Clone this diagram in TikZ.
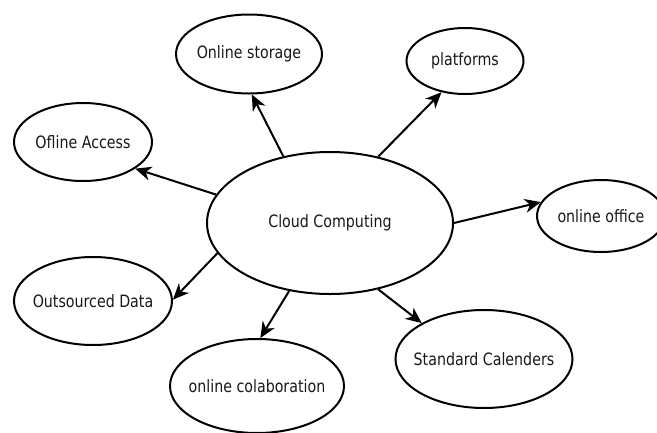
\documentclass[tikz,border=0pt]{standalone}
\usepackage{fontspec}
\newfontfamily\lblfont[FakeStretch=0.93]{DejaVu Sans Condensed}
\usetikzlibrary{shapes.geometric,arrows.meta}
% zero-width label so the ellipse keeps its given size
\newcommand\bubbletext[1]{\makebox[0pt]{#1}}
\tikzset{
  bubble/.style={ellipse, draw=black, line width=2pt, inner sep=0pt,
    font=\lblfont\fontsize{17}{20}\selectfont, text=black!90},
  link/.style={line width=2pt, draw=black,
    -{Stealth[length=16pt,width=14pt,inset=5pt]}}
}
\begin{document}
\begin{tikzpicture}[x=1pt,y=-1pt]
  \useasboundingbox (0,0) rectangle (657,432);
  \fill[white] (0,0) rectangle (657,432);
  \clip (0,0) rectangle (657,432);

  % hub
  \node[bubble, minimum width=246pt, minimum height=142pt] (cloud) at (330,223) {\bubbletext{Cloud Computing}};

  % satellites
  \node[bubble, minimum width=146pt, minimum height=79pt]  (storage)  at (249,54)  {\bubbletext{Online storage}};
  \node[bubble, minimum width=117pt, minimum height=66pt]  (plat)     at (465,61)  {\bubbletext{platforms}};
  \node[bubble, minimum width=138pt, minimum height=78pt]  (offline)  at (83,142)  {\bubbletext{Ofline Access}};
  \node[bubble, minimum width=128pt, minimum height=72pt]  (office)   at (601,216) {\bubbletext{online office}};
  \node[bubble, minimum width=158pt, minimum height=88pt]  (outsrc)   at (93,301)  {\bubbletext{Outsourced Data}};
  \node[bubble, minimum width=174pt, minimum height=94pt]  (collab)   at (257,386) {\bubbletext{online colaboration}};
  \node[bubble, minimum width=177pt, minimum height=98pt]  (calendar) at (484,359) {\bubbletext{Standard Calenders}};

  % spokes
  \draw[link] (cloud.125.5) -- (storage.-86);
  \draw[link] (cloud.54.5)  -- (plat.-127);
  \draw[link] (cloud.166.3) -- (offline.-27.5);
  \draw[link] (cloud.0)     -- (office.167);
  \draw[link] (cloud.-165.4) -- (outsrc.1.4);
  \draw[link] (cloud.-121.6) -- (collab.86.6);
  \draw[link] (cloud.-54.2) -- (calendar.150);
\end{tikzpicture}
\end{document}
